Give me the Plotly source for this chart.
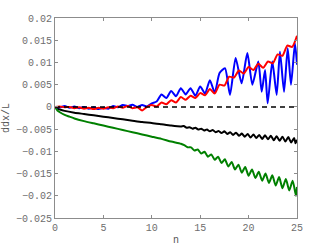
import plotly.graph_objects as go

# Series values (n, ddx/L)
n_blue = [0, 0.5, 1, 1.5, 2, 2.5, 3, 3.5, 4, 4.5, 5, 5.5, 6, 6.5, 7, 7.5, 8, 8.5, 9, 9.5,
          10, 10.5, 11, 11.5, 12, 12.5, 13, 13.5, 14, 14.5, 15, 15.5, 16, 16.5, 17,
          17.56, 18.08, 18.66, 19.28, 19.87, 20.39, 21.0, 21.35, 21.7, 21.97, 22.45, 22.9,
          23.24, 23.66, 24.04, 24.38, 24.79, 25]
blue = [0, -0.0001, 0.0002, -0.0002, 0.0001, -0.0003, 0.0000, -0.0004, -0.0001, -0.0005,
        -0.0002, -0.0004, 0.0002, -0.0001, 0.0004, 0.0002, 0.0005, 0.0000, 0.0004, 0.0001,
        0.0008, 0.0012, 0.0028, 0.0020, 0.0036, 0.0024, 0.0042, 0.0028, 0.0042, 0.0025,
        0.0046, 0.0030, 0.0060, 0.0032, 0.0076,
        0.0087, 0.0027, 0.0110, 0.0053, 0.0121, 0.0050, 0.0102, 0.0034, 0.0083, 0.0008,
        0.0102, 0.0027, 0.0124, 0.0034, 0.0132, 0.0050, 0.0143, 0.0095]

n_red = [0, 0.5, 1, 1.5, 2, 2.5, 3, 3.5, 4, 4.5, 5, 5.5, 6, 6.5, 7, 7.5, 8, 8.5, 9, 9.5,
         10, 10.5, 11, 11.5, 12, 12.5, 13, 13.5, 14, 14.5, 15, 15.5, 16, 16.5, 17, 17.5,
         18, 18.5, 19, 19.5, 20, 20.5, 21, 21.5, 22, 22.5, 23, 23.5, 24, 24.5, 25]
red = [0, 0.0001, -0.0001, 0.0000, -0.0003, -0.0001, -0.0004, -0.0002, -0.0005, -0.0002,
       -0.0004, -0.0001, -0.0003, 0.0001, -0.0002, 0.0002, -0.0003, -0.0001, -0.0008, 0.0000,
       0.0004, 0.0001, 0.0010, 0.0006, 0.0015, 0.0010, 0.0022, 0.0016, 0.0025, 0.0020,
       0.0031, 0.0026, 0.0040, 0.0030, 0.0050, 0.0048, 0.0068, 0.0066, 0.0082, 0.0075,
       0.0090, 0.0083, 0.0097, 0.0088, 0.0102, 0.0098, 0.0118, 0.0115, 0.0138, 0.0135, 0.0160]

n_black = [0, 0.25, 0.5, 1, 2, 3, 4, 5, 6, 7, 8, 9, 10, 11, 12, 13,
           13.3, 13.6, 13.9, 14.2, 14.5, 14.8, 15.1, 15.4, 15.7, 16.0, 16.3, 16.6, 16.9,
           17.2, 17.5, 17.8, 18.1, 18.4, 18.7, 19.0, 19.3, 19.6, 19.9, 20.2, 20.5, 20.8,
           21.1, 21.4, 21.7, 22.0, 22.3, 22.6, 22.9, 23.2, 23.5, 23.8, 24.1, 24.4, 24.7,
           24.85, 25]
black = [0, -0.0004, -0.0006, -0.0009, -0.0013, -0.0016, -0.0019, -0.0022, -0.0025, -0.0028,
         -0.0031, -0.0034, -0.0036, -0.0039, -0.0042, -0.0044,
         -0.0043, -0.0047, -0.0046, -0.0049, -0.0047, -0.0051, -0.0049, -0.0053, -0.0051,
         -0.0055, -0.0052, -0.0057, -0.0054, -0.0059, -0.0055, -0.0061, -0.0057, -0.0063,
         -0.0058, -0.0065, -0.0060, -0.0067, -0.0061, -0.0069, -0.0062, -0.0070, -0.0063,
         -0.0072, -0.0064, -0.0073, -0.0065, -0.0075, -0.0066, -0.0076, -0.0067, -0.0078,
         -0.0068, -0.0080, -0.0070, -0.0082, -0.0074]

n_green = [0, 0.25, 0.5, 1, 1.5, 2, 3, 4, 5, 6, 7, 8, 9, 10, 11, 12, 13,
           13.35, 13.7, 14.05, 14.4, 14.75, 15.1, 15.45, 15.8, 16.15, 16.5, 16.85, 17.2,
           17.55, 17.9, 18.25, 18.6, 18.95, 19.3, 19.65, 20.0, 20.35, 20.7, 21.05, 21.4,
           21.75, 22.1, 22.45, 22.8, 23.15, 23.5, 23.85, 24.2, 24.55, 24.9, 25]
green = [0, -0.0008, -0.0012, -0.0018, -0.0022, -0.0026, -0.0032, -0.0037, -0.0042, -0.0047,
         -0.0052, -0.0057, -0.0062, -0.0067, -0.0072, -0.0078, -0.0083,
         -0.0086, -0.0091, -0.0091, -0.0098, -0.0096, -0.0105, -0.0101, -0.0112, -0.0107,
         -0.0119, -0.0112, -0.0126, -0.0118, -0.0134, -0.0124, -0.0141, -0.0130, -0.0148,
         -0.0135, -0.0155, -0.0141, -0.0160, -0.0146, -0.0166, -0.0150, -0.0171, -0.0154,
         -0.0177, -0.0158, -0.0183, -0.0162, -0.0188, -0.0166, -0.0200, -0.0180]

n_zero = [0, 25]
zero = [0, 0]

x_ticks = [0, 5, 10, 15, 20, 25]
y_ticks = [0.02, 0.015, 0.01, 0.005, 0, -0.005, -0.01, -0.015, -0.02, -0.025]
y_labels = ["0.02", "0.015", "0.01", "0.005", "0", "\u22120.005", "\u22120.01",
            "\u22120.015", "\u22120.02", "\u22120.025"]

font = "Liberation Mono"

fig = go.Figure()
fig.add_trace(go.Scatter(x=n_black, y=black, mode="lines",
                         line=dict(color="black", width=2, shape="spline", smoothing=0.6)))
fig.add_trace(go.Scatter(x=n_green, y=green, mode="lines",
                         line=dict(color="#008000", width=2, shape="spline", smoothing=0.6)))
fig.add_trace(go.Scatter(x=n_blue, y=blue, mode="lines",
                         line=dict(color="#0000ff", width=2, shape="spline", smoothing=0.6)))
fig.add_trace(go.Scatter(x=n_red, y=red, mode="lines",
                         line=dict(color="#ff0000", width=2, shape="spline", smoothing=0.6)))
fig.add_trace(go.Scatter(x=n_zero, y=zero, mode="lines",
                         line=dict(color="black", width=1.5, dash="5px,4px")))

axis_style = dict(showline=True, linecolor="#8c8c8c", linewidth=1, mirror="ticks",
                  ticks="inside", ticklen=3, tickcolor="#8c8c8c", showgrid=False,
                  zeroline=False, automargin=False,
                  tickfont=dict(family=font, size=10, color="#6e6e6e"))

fig.update_xaxes(range=[0, 25], tickvals=x_ticks,
                 title=dict(text="n", font=dict(family=font, size=10, color="#555555"), standoff=4),
                 **axis_style)
fig.update_yaxes(range=[-0.025, 0.02], tickvals=y_ticks, ticktext=y_labels,
                 title=dict(text="ddx/L", font=dict(family=font, size=10, color="#555555"), standoff=4),
                 **axis_style)

fig.update_layout(width=327, height=246, showlegend=False,
                  plot_bgcolor="white", paper_bgcolor="white",
                  margin=dict(l=55, r=30, t=18, b=28))
fig.write_html("out.html", config={"displayModeBar": False},
               post_script="document.body.style.margin='0';")
